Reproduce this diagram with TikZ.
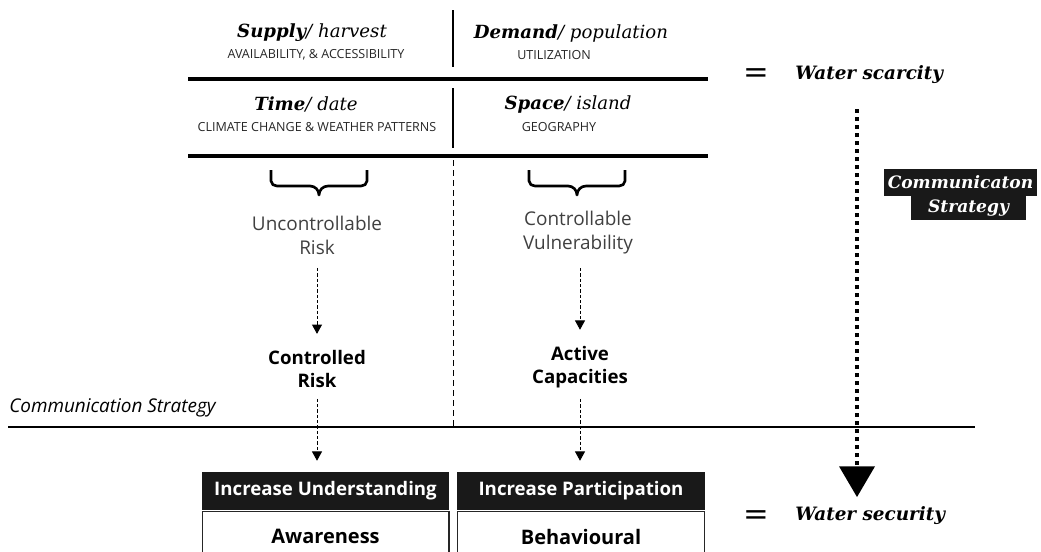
\documentclass[tikz,border=0pt]{standalone}
\usepackage{fontspec}
\setmainfont{DejaVu Serif}
\setsansfont{Open Sans}
\usetikzlibrary{arrows.meta}
\tikzstyle{key} = [font=\fontsize{13.6}{15}\selectfont, inner sep=0pt]
\tikzstyle{caps} = [font=\sffamily\fontsize{9.4}{10}\selectfont, text=black!85, inner sep=0pt]
\tikzstyle{soft} = [font=\sffamily\fontsize{14.2}{18}\selectfont, text=black!75, align=center, inner sep=0pt]
\tikzstyle{firm} = [font=\sffamily\bfseries\fontsize{14}{17.5}\selectfont, align=center, inner sep=0pt]
\tikzstyle{boxhead} = [fill=black!90, text=white, font=\sffamily\bfseries\fontsize{14}{15}\selectfont, minimum height=29pt, inner sep=0pt]
\tikzstyle{boxbody} = [draw=black!85, line width=1pt, font=\sffamily\bfseries\fontsize{15}{16}\selectfont, minimum height=37.5pt, inner sep=0pt, anchor=north]
\tikzstyle{result} = [font=\bfseries\itshape\fontsize{13.8}{15}\selectfont, inner sep=0pt]
\tikzstyle{equal} = [font=\fontsize{23}{23}\selectfont, inner sep=0pt]
\tikzstyle{tag} = [fill=black!90, text=white, font=\bfseries\itshape\fontsize{12.8}{14}\selectfont, inner sep=0pt]
\tikzstyle{rule} = [line width=2.3pt]
\tikzstyle{divide} = [dash pattern=on 4.5pt off 3pt, line width=0.75pt]
\tikzstyle{brace} = [line width=2pt, line join=round]
\tikzstyle{flow} = [dash pattern=on 2.5pt off 1.5pt, line width=0.75pt, -{Triangle[width=7.5pt,length=7pt]}]
\tikzstyle{bigflow} = [line width=3pt, dash pattern=on 3pt off 3pt, -{Triangle[width=27pt,length=23pt,line width=0pt]}]

\begin{document}
\begin{tikzpicture}[x=0.75pt,y=-0.75pt]
        \useasboundingbox (0,0) rectangle (1041,551);
        \clip (0,0) rectangle (1041,551);
        % table of factors
        \node[key](supply) at (312,33){{\bfseries\itshape Supply}{\itshape/ harvest}};
        \node[caps](supplycap) at (316,55){AVAILABILITY, \& ACCESSIBILITY};
        \node[key](demand) at (571,33){{\bfseries\itshape Demand}{\itshape/ population}};
        \node[caps](demandcap) at (554,55){UTILIZATION};
        \node[key](time) at (306,104){{\bfseries\itshape Time}{\itshape/ date}};
        \node[caps](timecap) at (317,127){CLIMATE CHANGE \& WEATHER PATTERNS};
        \node[key](space) at (568,104){{\bfseries\itshape Space}{\itshape/ island}};
        \node[caps](spacecap) at (559,127){GEOGRAPHY};
        \draw[line width=1.1pt](453,10)--(453,67);
        \draw[line width=1.1pt](453,88)--(453,148);
        \draw[rule](188,79)--(708,79);
        \draw[rule](188,156)--(708,156);
        \draw[divide](453,160)--(453,427);
        % braces
        \draw[brace](271,170)--(271,181)to[out=-90,in=180](277,186)--(310,186)to[out=0,in=90](319,195)
          to[out=90,in=180](328,186)--(361,186)to[out=0,in=-90](367,181)--(367,170);
        \draw[brace](529,170)--(529,181)to[out=-90,in=180](535,186)--(568,186)to[out=0,in=90](577,195)
          to[out=90,in=180](586,186)--(619,186)to[out=0,in=-90](625,181)--(625,170);
        \node[soft](unctrl) at (317,235){Uncontrollable\\Risk};
        \node[soft](ctrl) at (578,233){Controllable\\Vulnerability};
        \node[firm](ctrlrisk) at (317,369){Controlled\\Risk};
        \node[firm](active) at (580,367){Active\\Capacities};
        \draw[flow,shorten <=10pt,shorten >=12pt](unctrl.south)--(unctrl.south |- ctrlrisk.north);
        \draw[flow,shorten <=10pt,shorten >=12pt](ctrl.south -| active)--(active.north);
        % strategy line
        \node[font=\sffamily\itshape\fontsize{14.2}{15}\selectfont,inner sep=0pt,anchor=west](comm) at (9,408){Communication Strategy};
        \draw[line width=1pt](8,427)--(975,427);
        \node[boxhead,minimum width=185pt](under) at (325.5,491){Increase Understanding};
        \node[boxbody,minimum width=185pt](aware) at (325.5,511){Awareness};
        \node[boxhead,minimum width=185.5pt](part) at (581,491){Increase Participation};
        \node[boxbody,minimum width=185.5pt](behav) at (581,511){Behavioural};
        \draw[flow,shorten <=8pt,shorten >=8pt](ctrlrisk.south)--(ctrlrisk.south |- under.north);
        \draw[flow,shorten <=8pt,shorten >=8pt](active.south)--(active.south |- part.north);
        % outcome column
        \node[equal](eqtop) at (756,76){=};
        \node[result,anchor=west](scarcity) at (795,75){Water scarcity};
        \node[equal](eqbot) at (756,518){=};
        \node[result,anchor=west](security) at (795,516){Water security};
        \node[tag,minimum width=115pt,minimum height=20.5pt](tag1) at (960.5,182.5){Communicaton};
        \node[tag,minimum width=86pt,minimum height=18pt](tag2) at (968.5,208){Strategy};
        \coordinate(from) at (857,109);
        \coordinate(to) at (857,497);
        \draw[bigflow](from)--(to);
\end{tikzpicture}
\end{document}
